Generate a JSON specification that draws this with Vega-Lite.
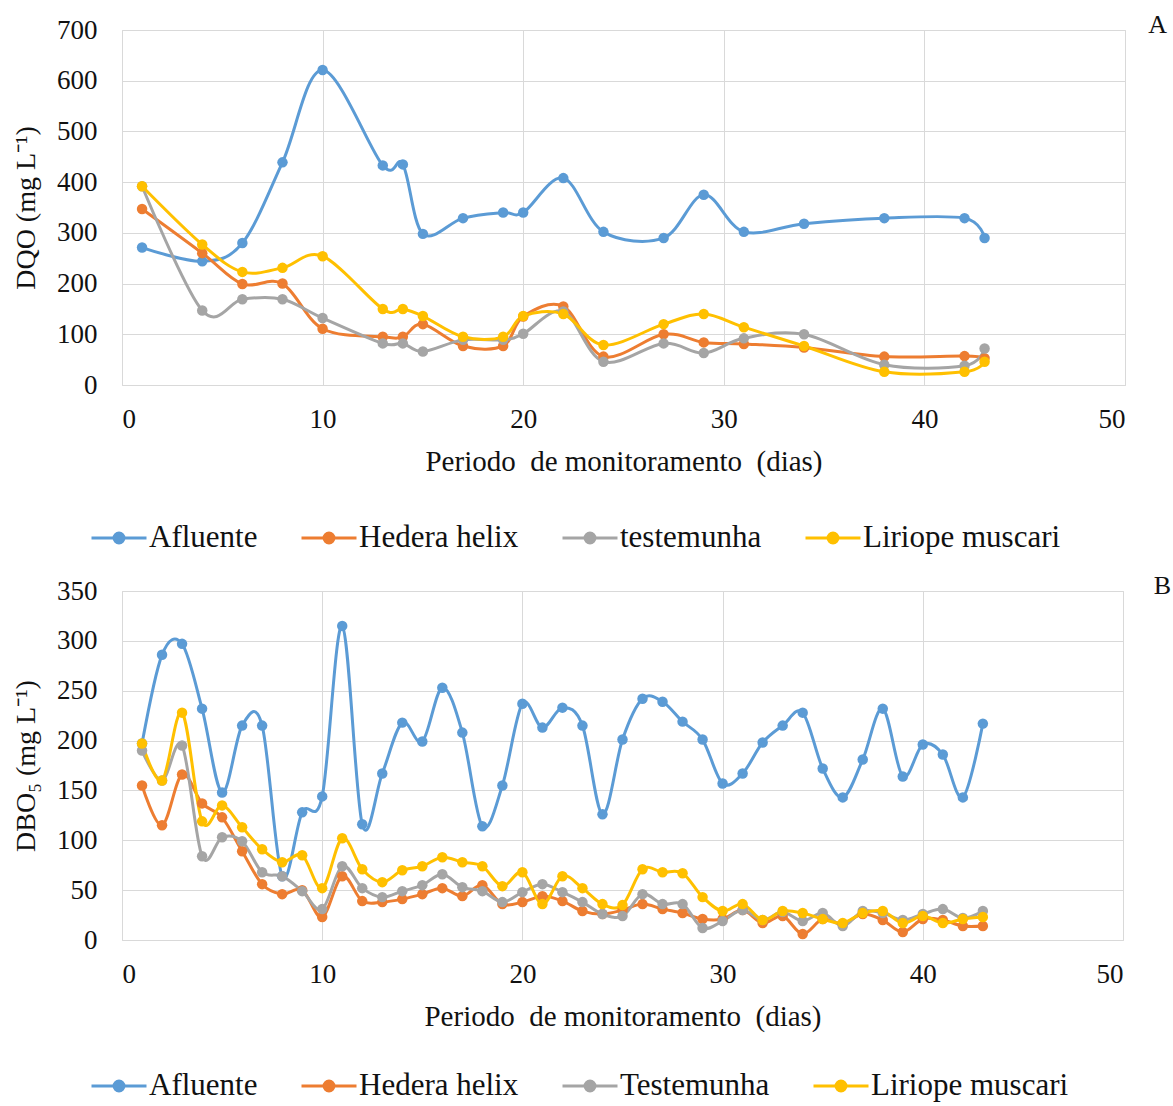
{
  "$schema": "https://vega.github.io/schema/vega-lite/v6.json",
  "background": "white",
  "padding": {"left": 12, "top": 11, "right": 0, "bottom": 0},
  "spacing": 18,
  "config": {
    "font": "Liberation Serif",
    "view": {"stroke": "#D9D9D9", "strokeWidth": 1},
    "axis": {
      "labelFont": "Liberation Serif",
      "labelFontSize": 27,
      "labelColor": "#111111",
      "titleFont": "Liberation Serif",
      "titleFontSize": 28,
      "titleFontWeight": "normal",
      "titleColor": "#111111",
      "ticks": false,
      "domain": false,
      "gridColor": "#D9D9D9",
      "gridWidth": 1
    },
    "legend": {
      "labelFont": "Liberation Serif",
      "labelFontSize": 31,
      "labelColor": "#111111",
      "labelLimit": 0,
      "symbolType": "M-1,0H1M-0.18,0A0.18,0.18,0,1,0,0.18,0A0.18,0.18,0,1,0,-0.18,0",
      "symbolSize": 3025,
      "symbolStrokeWidth": 3,
      "columnPadding": 37,
      "labelOffset": 1,
      "symbolOffset": 0
    }
  },
  "datasets": {
    "dqo": [
      {"dia": 1, "serie": "Afluente", "valor": 271}, {"dia": 4, "serie": "Afluente", "valor": 244}, {"dia": 6, "serie": "Afluente", "valor": 280}, {"dia": 8, "serie": "Afluente", "valor": 439}, {"dia": 10, "serie": "Afluente", "valor": 621}, {"dia": 13, "serie": "Afluente", "valor": 433}, {"dia": 14, "serie": "Afluente", "valor": 435}, {"dia": 15, "serie": "Afluente", "valor": 298}, {"dia": 17, "serie": "Afluente", "valor": 329}, {"dia": 19, "serie": "Afluente", "valor": 340}, {"dia": 20, "serie": "Afluente", "valor": 340}, {"dia": 22, "serie": "Afluente", "valor": 408}, {"dia": 24, "serie": "Afluente", "valor": 302}, {"dia": 27, "serie": "Afluente", "valor": 290}, {"dia": 29, "serie": "Afluente", "valor": 375}, {"dia": 31, "serie": "Afluente", "valor": 302}, {"dia": 34, "serie": "Afluente", "valor": 318}, {"dia": 38, "serie": "Afluente", "valor": 329}, {"dia": 42, "serie": "Afluente", "valor": 329}, {"dia": 43, "serie": "Afluente", "valor": 290},
      {"dia": 1, "serie": "Hedera helix", "valor": 347}, {"dia": 4, "serie": "Hedera helix", "valor": 260}, {"dia": 6, "serie": "Hedera helix", "valor": 199}, {"dia": 8, "serie": "Hedera helix", "valor": 200}, {"dia": 10, "serie": "Hedera helix", "valor": 111}, {"dia": 13, "serie": "Hedera helix", "valor": 95}, {"dia": 14, "serie": "Hedera helix", "valor": 95}, {"dia": 15, "serie": "Hedera helix", "valor": 120}, {"dia": 17, "serie": "Hedera helix", "valor": 77}, {"dia": 19, "serie": "Hedera helix", "valor": 77}, {"dia": 20, "serie": "Hedera helix", "valor": 135}, {"dia": 22, "serie": "Hedera helix", "valor": 155}, {"dia": 24, "serie": "Hedera helix", "valor": 56}, {"dia": 27, "serie": "Hedera helix", "valor": 100}, {"dia": 29, "serie": "Hedera helix", "valor": 84}, {"dia": 31, "serie": "Hedera helix", "valor": 81}, {"dia": 34, "serie": "Hedera helix", "valor": 74}, {"dia": 38, "serie": "Hedera helix", "valor": 56}, {"dia": 42, "serie": "Hedera helix", "valor": 57}, {"dia": 43, "serie": "Hedera helix", "valor": 53},
      {"dia": 1, "serie": "testemunha", "valor": 392}, {"dia": 4, "serie": "testemunha", "valor": 147}, {"dia": 6, "serie": "testemunha", "valor": 169}, {"dia": 8, "serie": "testemunha", "valor": 169}, {"dia": 10, "serie": "testemunha", "valor": 132}, {"dia": 13, "serie": "testemunha", "valor": 82}, {"dia": 14, "serie": "testemunha", "valor": 82}, {"dia": 15, "serie": "testemunha", "valor": 66}, {"dia": 17, "serie": "testemunha", "valor": 89}, {"dia": 19, "serie": "testemunha", "valor": 89}, {"dia": 20, "serie": "testemunha", "valor": 101}, {"dia": 22, "serie": "testemunha", "valor": 145}, {"dia": 24, "serie": "testemunha", "valor": 46}, {"dia": 27, "serie": "testemunha", "valor": 82}, {"dia": 29, "serie": "testemunha", "valor": 63}, {"dia": 31, "serie": "testemunha", "valor": 92}, {"dia": 34, "serie": "testemunha", "valor": 100}, {"dia": 38, "serie": "testemunha", "valor": 40}, {"dia": 42, "serie": "testemunha", "valor": 38}, {"dia": 43, "serie": "testemunha", "valor": 72},
      {"dia": 1, "serie": "Liriope muscari", "valor": 392}, {"dia": 4, "serie": "Liriope muscari", "valor": 277}, {"dia": 6, "serie": "Liriope muscari", "valor": 223}, {"dia": 8, "serie": "Liriope muscari", "valor": 231}, {"dia": 10, "serie": "Liriope muscari", "valor": 254}, {"dia": 13, "serie": "Liriope muscari", "valor": 150}, {"dia": 14, "serie": "Liriope muscari", "valor": 150}, {"dia": 15, "serie": "Liriope muscari", "valor": 136}, {"dia": 17, "serie": "Liriope muscari", "valor": 95}, {"dia": 19, "serie": "Liriope muscari", "valor": 95}, {"dia": 20, "serie": "Liriope muscari", "valor": 136}, {"dia": 22, "serie": "Liriope muscari", "valor": 140}, {"dia": 24, "serie": "Liriope muscari", "valor": 79}, {"dia": 27, "serie": "Liriope muscari", "valor": 120}, {"dia": 29, "serie": "Liriope muscari", "valor": 140}, {"dia": 31, "serie": "Liriope muscari", "valor": 114}, {"dia": 34, "serie": "Liriope muscari", "valor": 77}, {"dia": 38, "serie": "Liriope muscari", "valor": 26}, {"dia": 42, "serie": "Liriope muscari", "valor": 26}, {"dia": 43, "serie": "Liriope muscari", "valor": 46}
    ],
    "dbo": [
      {"dia": 1, "serie": "Afluente", "valor": 197}, {"dia": 2, "serie": "Afluente", "valor": 286}, {"dia": 3, "serie": "Afluente", "valor": 297}, {"dia": 4, "serie": "Afluente", "valor": 232}, {"dia": 5, "serie": "Afluente", "valor": 148}, {"dia": 6, "serie": "Afluente", "valor": 215}, {"dia": 7, "serie": "Afluente", "valor": 215}, {"dia": 8, "serie": "Afluente", "valor": 64}, {"dia": 9, "serie": "Afluente", "valor": 128}, {"dia": 10, "serie": "Afluente", "valor": 144}, {"dia": 11, "serie": "Afluente", "valor": 315}, {"dia": 12, "serie": "Afluente", "valor": 116}, {"dia": 13, "serie": "Afluente", "valor": 167}, {"dia": 14, "serie": "Afluente", "valor": 218}, {"dia": 15, "serie": "Afluente", "valor": 199}, {"dia": 16, "serie": "Afluente", "valor": 253}, {"dia": 17, "serie": "Afluente", "valor": 208}, {"dia": 18, "serie": "Afluente", "valor": 114}, {"dia": 19, "serie": "Afluente", "valor": 155}, {"dia": 20, "serie": "Afluente", "valor": 237}, {"dia": 21, "serie": "Afluente", "valor": 213}, {"dia": 22, "serie": "Afluente", "valor": 233}, {"dia": 23, "serie": "Afluente", "valor": 215}, {"dia": 24, "serie": "Afluente", "valor": 126}, {"dia": 25, "serie": "Afluente", "valor": 201}, {"dia": 26, "serie": "Afluente", "valor": 242}, {"dia": 27, "serie": "Afluente", "valor": 239}, {"dia": 28, "serie": "Afluente", "valor": 219}, {"dia": 29, "serie": "Afluente", "valor": 201}, {"dia": 30, "serie": "Afluente", "valor": 157}, {"dia": 31, "serie": "Afluente", "valor": 167}, {"dia": 32, "serie": "Afluente", "valor": 198}, {"dia": 33, "serie": "Afluente", "valor": 215}, {"dia": 34, "serie": "Afluente", "valor": 228}, {"dia": 35, "serie": "Afluente", "valor": 172}, {"dia": 36, "serie": "Afluente", "valor": 143}, {"dia": 37, "serie": "Afluente", "valor": 181}, {"dia": 38, "serie": "Afluente", "valor": 232}, {"dia": 39, "serie": "Afluente", "valor": 164}, {"dia": 40, "serie": "Afluente", "valor": 196}, {"dia": 41, "serie": "Afluente", "valor": 186}, {"dia": 42, "serie": "Afluente", "valor": 143}, {"dia": 43, "serie": "Afluente", "valor": 217},
      {"dia": 1, "serie": "Hedera helix", "valor": 155}, {"dia": 2, "serie": "Hedera helix", "valor": 115}, {"dia": 3, "serie": "Hedera helix", "valor": 166}, {"dia": 4, "serie": "Hedera helix", "valor": 137}, {"dia": 5, "serie": "Hedera helix", "valor": 123}, {"dia": 6, "serie": "Hedera helix", "valor": 89}, {"dia": 7, "serie": "Hedera helix", "valor": 56}, {"dia": 8, "serie": "Hedera helix", "valor": 46}, {"dia": 9, "serie": "Hedera helix", "valor": 50}, {"dia": 10, "serie": "Hedera helix", "valor": 23}, {"dia": 11, "serie": "Hedera helix", "valor": 64}, {"dia": 12, "serie": "Hedera helix", "valor": 39}, {"dia": 13, "serie": "Hedera helix", "valor": 38}, {"dia": 14, "serie": "Hedera helix", "valor": 41}, {"dia": 15, "serie": "Hedera helix", "valor": 46}, {"dia": 16, "serie": "Hedera helix", "valor": 52}, {"dia": 17, "serie": "Hedera helix", "valor": 44}, {"dia": 18, "serie": "Hedera helix", "valor": 55}, {"dia": 19, "serie": "Hedera helix", "valor": 36}, {"dia": 20, "serie": "Hedera helix", "valor": 38}, {"dia": 21, "serie": "Hedera helix", "valor": 44}, {"dia": 22, "serie": "Hedera helix", "valor": 39}, {"dia": 23, "serie": "Hedera helix", "valor": 29}, {"dia": 24, "serie": "Hedera helix", "valor": 26}, {"dia": 25, "serie": "Hedera helix", "valor": 30}, {"dia": 26, "serie": "Hedera helix", "valor": 36}, {"dia": 27, "serie": "Hedera helix", "valor": 31}, {"dia": 28, "serie": "Hedera helix", "valor": 27}, {"dia": 29, "serie": "Hedera helix", "valor": 21}, {"dia": 30, "serie": "Hedera helix", "valor": 21}, {"dia": 31, "serie": "Hedera helix", "valor": 30}, {"dia": 32, "serie": "Hedera helix", "valor": 17}, {"dia": 33, "serie": "Hedera helix", "valor": 24}, {"dia": 34, "serie": "Hedera helix", "valor": 6}, {"dia": 35, "serie": "Hedera helix", "valor": 21}, {"dia": 36, "serie": "Hedera helix", "valor": 16}, {"dia": 37, "serie": "Hedera helix", "valor": 26}, {"dia": 38, "serie": "Hedera helix", "valor": 20}, {"dia": 39, "serie": "Hedera helix", "valor": 8}, {"dia": 40, "serie": "Hedera helix", "valor": 21}, {"dia": 41, "serie": "Hedera helix", "valor": 20}, {"dia": 42, "serie": "Hedera helix", "valor": 14}, {"dia": 43, "serie": "Hedera helix", "valor": 14},
      {"dia": 1, "serie": "Testemunha", "valor": 190}, {"dia": 2, "serie": "Testemunha", "valor": 160}, {"dia": 3, "serie": "Testemunha", "valor": 195}, {"dia": 4, "serie": "Testemunha", "valor": 84}, {"dia": 5, "serie": "Testemunha", "valor": 103}, {"dia": 6, "serie": "Testemunha", "valor": 99}, {"dia": 7, "serie": "Testemunha", "valor": 68}, {"dia": 8, "serie": "Testemunha", "valor": 64}, {"dia": 9, "serie": "Testemunha", "valor": 49}, {"dia": 10, "serie": "Testemunha", "valor": 31}, {"dia": 11, "serie": "Testemunha", "valor": 74}, {"dia": 12, "serie": "Testemunha", "valor": 52}, {"dia": 13, "serie": "Testemunha", "valor": 43}, {"dia": 14, "serie": "Testemunha", "valor": 49}, {"dia": 15, "serie": "Testemunha", "valor": 55}, {"dia": 16, "serie": "Testemunha", "valor": 66}, {"dia": 17, "serie": "Testemunha", "valor": 53}, {"dia": 18, "serie": "Testemunha", "valor": 49}, {"dia": 19, "serie": "Testemunha", "valor": 38}, {"dia": 20, "serie": "Testemunha", "valor": 48}, {"dia": 21, "serie": "Testemunha", "valor": 56}, {"dia": 22, "serie": "Testemunha", "valor": 48}, {"dia": 23, "serie": "Testemunha", "valor": 38}, {"dia": 24, "serie": "Testemunha", "valor": 26}, {"dia": 25, "serie": "Testemunha", "valor": 24}, {"dia": 26, "serie": "Testemunha", "valor": 46}, {"dia": 27, "serie": "Testemunha", "valor": 36}, {"dia": 28, "serie": "Testemunha", "valor": 36}, {"dia": 29, "serie": "Testemunha", "valor": 12}, {"dia": 30, "serie": "Testemunha", "valor": 19}, {"dia": 31, "serie": "Testemunha", "valor": 30}, {"dia": 32, "serie": "Testemunha", "valor": 20}, {"dia": 33, "serie": "Testemunha", "valor": 28}, {"dia": 34, "serie": "Testemunha", "valor": 19}, {"dia": 35, "serie": "Testemunha", "valor": 27}, {"dia": 36, "serie": "Testemunha", "valor": 14}, {"dia": 37, "serie": "Testemunha", "valor": 29}, {"dia": 38, "serie": "Testemunha", "valor": 27}, {"dia": 39, "serie": "Testemunha", "valor": 20}, {"dia": 40, "serie": "Testemunha", "valor": 26}, {"dia": 41, "serie": "Testemunha", "valor": 31}, {"dia": 42, "serie": "Testemunha", "valor": 22}, {"dia": 43, "serie": "Testemunha", "valor": 29},
      {"dia": 1, "serie": "Liriope muscari", "valor": 197}, {"dia": 2, "serie": "Liriope muscari", "valor": 160}, {"dia": 3, "serie": "Liriope muscari", "valor": 228}, {"dia": 4, "serie": "Liriope muscari", "valor": 119}, {"dia": 5, "serie": "Liriope muscari", "valor": 135}, {"dia": 6, "serie": "Liriope muscari", "valor": 113}, {"dia": 7, "serie": "Liriope muscari", "valor": 91}, {"dia": 8, "serie": "Liriope muscari", "valor": 78}, {"dia": 9, "serie": "Liriope muscari", "valor": 85}, {"dia": 10, "serie": "Liriope muscari", "valor": 52}, {"dia": 11, "serie": "Liriope muscari", "valor": 102}, {"dia": 12, "serie": "Liriope muscari", "valor": 71}, {"dia": 13, "serie": "Liriope muscari", "valor": 58}, {"dia": 14, "serie": "Liriope muscari", "valor": 70}, {"dia": 15, "serie": "Liriope muscari", "valor": 74}, {"dia": 16, "serie": "Liriope muscari", "valor": 83}, {"dia": 17, "serie": "Liriope muscari", "valor": 78}, {"dia": 18, "serie": "Liriope muscari", "valor": 74}, {"dia": 19, "serie": "Liriope muscari", "valor": 54}, {"dia": 20, "serie": "Liriope muscari", "valor": 68}, {"dia": 21, "serie": "Liriope muscari", "valor": 36}, {"dia": 22, "serie": "Liriope muscari", "valor": 64}, {"dia": 23, "serie": "Liriope muscari", "valor": 52}, {"dia": 24, "serie": "Liriope muscari", "valor": 36}, {"dia": 25, "serie": "Liriope muscari", "valor": 35}, {"dia": 26, "serie": "Liriope muscari", "valor": 71}, {"dia": 27, "serie": "Liriope muscari", "valor": 68}, {"dia": 28, "serie": "Liriope muscari", "valor": 67}, {"dia": 29, "serie": "Liriope muscari", "valor": 43}, {"dia": 30, "serie": "Liriope muscari", "valor": 29}, {"dia": 31, "serie": "Liriope muscari", "valor": 36}, {"dia": 32, "serie": "Liriope muscari", "valor": 20}, {"dia": 33, "serie": "Liriope muscari", "valor": 29}, {"dia": 34, "serie": "Liriope muscari", "valor": 27}, {"dia": 35, "serie": "Liriope muscari", "valor": 21}, {"dia": 36, "serie": "Liriope muscari", "valor": 17}, {"dia": 37, "serie": "Liriope muscari", "valor": 27}, {"dia": 38, "serie": "Liriope muscari", "valor": 29}, {"dia": 39, "serie": "Liriope muscari", "valor": 17}, {"dia": 40, "serie": "Liriope muscari", "valor": 24}, {"dia": 41, "serie": "Liriope muscari", "valor": 17}, {"dia": 42, "serie": "Liriope muscari", "valor": 21}, {"dia": 43, "serie": "Liriope muscari", "valor": 23}
    ]
  },
  "resolve": {"scale": {"color": "independent"}, "legend": {"color": "independent"}},
  "vconcat": [
    {
      "width": 1003,
      "height": 355,
      "title": {"text": "A", "anchor": "end", "dx": 42, "offset": -43, "baseline": "alphabetic", "font": "Liberation Serif", "fontSize": 26, "fontWeight": "normal", "color": "#111111"},
      "data": {"name": "dqo"},
      "encoding": {
        "x": {"field": "dia", "type": "quantitative", "scale": {"domain": [0, 50], "nice": false}, "axis": {"values": [0, 10, 20, 30, 40, 50], "labelFont": "Liberation Serif", "labelFontSize": 27, "labelPadding": 21, "titlePadding": 15, "titleFontSize": 29, "title": "Periodo\u00a0 de monitoramento\u00a0 (dias)"}},
        "y": {"field": "valor", "type": "quantitative", "scale": {"domain": [0, 700], "nice": false}, "axis": {"values": [0, 100, 200, 300, 400, 500, 600, 700], "labelFont": "Liberation Serif", "labelFontSize": 27, "labelPadding": 25, "titlePadding": 16, "title": "DQO (mg L⁻¹)"}},
        "color": {"field": "serie", "type": "nominal", "scale": {"domain": ["Afluente", "Hedera helix", "testemunha", "Liriope muscari"], "range": ["#5B9BD5", "#ED7D31", "#A5A5A5", "#FFC000"]}, "legend": {"title": null, "orient": "none", "direction": "horizontal", "legendX": -32, "legendY": 479}}
      },
      "layer": [
        {"mark": {"type": "line", "interpolate": "cardinal", "strokeWidth": 3}},
        {"mark": {"type": "point", "filled": true, "size": 110, "opacity": 1}}
      ]
    },
    {
      "width": 1001,
      "height": 349,
      "title": {"text": "B", "anchor": "end", "dx": 48, "offset": -43, "baseline": "alphabetic", "font": "Liberation Serif", "fontSize": 26, "fontWeight": "normal", "color": "#111111"},
      "data": {"name": "dbo"},
      "encoding": {
        "x": {"field": "dia", "type": "quantitative", "scale": {"domain": [0, 50], "nice": false}, "axis": {"values": [0, 10, 20, 30, 40, 50], "labelFont": "Liberation Serif", "labelFontSize": 27, "labelPadding": 21, "titlePadding": 15, "titleFontSize": 29, "title": "Periodo\u00a0 de monitoramento\u00a0 (dias)"}},
        "y": {"field": "valor", "type": "quantitative", "scale": {"domain": [0, 350], "nice": false}, "axis": {"values": [0, 50, 100, 150, 200, 250, 300, 350], "labelFont": "Liberation Serif", "labelFontSize": 27, "labelPadding": 25, "titlePadding": 16, "title": "DBO₅ (mg L⁻¹)"}},
        "color": {"field": "serie", "type": "nominal", "scale": {"domain": ["Afluente", "Hedera helix", "Testemunha", "Liriope muscari"], "range": ["#5B9BD5", "#ED7D31", "#A5A5A5", "#FFC000"]}, "legend": {"title": null, "orient": "none", "direction": "horizontal", "legendX": -32, "legendY": 466}}
      },
      "layer": [
        {"mark": {"type": "line", "interpolate": "cardinal", "strokeWidth": 3}},
        {"mark": {"type": "point", "filled": true, "size": 110, "opacity": 1}}
      ]
    }
  ]
}
